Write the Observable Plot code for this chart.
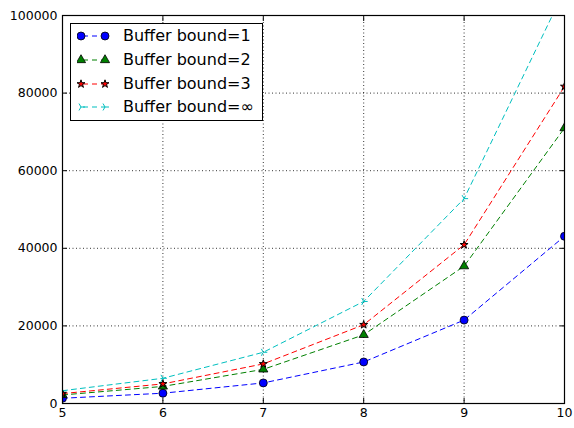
<!DOCTYPE html>
<html><head><meta charset="utf-8">
<script src="https://cdn.jsdelivr.net/npm/d3@7"></script>
<script src="https://cdn.jsdelivr.net/npm/@observablehq/plot@0.6"></script>
<style>
body{margin:0;background:#fff;font-family:"DejaVu Sans",sans-serif}
#wrap{position:relative;width:574px;height:428px}
#legend{position:absolute;left:70px;top:23px;width:191px;height:96px;border:1px solid #000;background:#fff}
.row{position:absolute;left:0;height:24px;width:191px}
.row svg{position:absolute;left:6px;top:0}
.row span{position:absolute;left:52px;top:2px;font-size:16px;color:#000;white-space:nowrap}
</style>
</head><body><div id="wrap"></div><script>
const xs = [5, 6, 7, 8, 9, 10];
const bound1 = [1350, 2650, 5300, 10700, 21500, 43100];
const bound2 = [2200, 4400, 8800, 17700, 35400, 71000];
const bound3 = [2550, 5050, 10200, 20300, 40900, 81700];
const boundInf = [3300, 6500, 13200, 26300, 52800, 106500];
const seriesNames = ["Buffer bound=1", "Buffer bound=2", "Buffer bound=3", "Buffer bound=\u221E"];
const seriesColors = ["#0000ff", "#008000", "#ff0000", "#00bfbf"];
const xTicks = [5, 6, 7, 8, 9, 10];
const yTicks = [0, 20000, 40000, 60000, 80000, 100000];

const triRight = {
  draw(ctx, size) {
    const r = Math.sqrt(size / Math.PI);
    ctx.moveTo(0, 0); ctx.lineTo(r, 0);
    ctx.moveTo(0, 0); ctx.lineTo(-r * 0.5, -r * 0.866);
    ctx.moveTo(0, 0); ctx.lineTo(-r * 0.5, r * 0.866);
  }
};
const markerSpecs = [
  {symbol: "circle", r: 4, fill: seriesColors[0], stroke: "#000", strokeWidth: 0.8},
  {symbol: "triangle", r: 3.4, fill: seriesColors[1], stroke: "#000", strokeWidth: 0.8},
  {symbol: "star", r: 2.5, fill: seriesColors[2], stroke: "#000", strokeWidth: 1},
  {symbol: triRight, r: 4, fill: "none", stroke: seriesColors[3], strokeWidth: 1}
];
const allVals = [bound1, bound2, bound3, boundInf];
const rows = [];
allVals.forEach((vals, s) => vals.forEach((v, i) => rows.push({x: xs[i], y: v, s})));

const marks = [
  Plot.gridX(xTicks, {stroke: "#000", strokeOpacity: 1, strokeWidth: 0.8, strokeDasharray: "1,2.5"}),
  Plot.gridY(yTicks, {stroke: "#000", strokeOpacity: 1, strokeWidth: 0.8, strokeDasharray: "1,2.5"})
];
allVals.forEach((vals, s) => {
  const d = rows.filter(r => r.s === s);
  marks.push(Plot.line(d, {x: "x", y: "y", stroke: seriesColors[s], strokeWidth: 1, strokeDasharray: "5,4", clip: true}));
});
allVals.forEach((vals, s) => {
  const d = rows.filter(r => r.s === s);
  const m = markerSpecs[s];
  marks.push(Plot.dot(d, {x: "x", y: "y", symbol: () => m.symbol, r: m.r, fill: m.fill, stroke: m.stroke, strokeWidth: m.strokeWidth, clip: true}));
});
marks.push(
  Plot.frame({stroke: "#000", strokeWidth: 1.2}),
  Plot.axisX(xTicks, {anchor: "bottom", tickSize: -5, tickPadding: 10, tickFormat: d => String(d), fontSize: 12.5, label: null}),
  Plot.axisX(xTicks, {anchor: "top", tickSize: -5, tickFormat: () => "", label: null}),
  Plot.axisY(yTicks, {anchor: "left", tickSize: -5, tickPadding: 10, tickFormat: d => String(d), fontSize: 12.5, label: null}),
  Plot.axisY(yTicks, {anchor: "right", tickSize: -5, tickFormat: () => "", label: null})
);

const chart = Plot.plot({
  width: 574, height: 428,
  marginLeft: 62, marginRight: 10, marginTop: 15, marginBottom: 25,
  style: {fontFamily: "DejaVu Sans", color: "#000", background: "#fff"},
  x: {domain: [5, 10]},
  y: {domain: [0, 100000]},
  symbol: {type: "identity"},
  marks
});
const wrap = document.getElementById("wrap");
wrap.appendChild(chart);

// legend
const legend = document.createElement("div");
legend.id = "legend";
seriesNames.forEach((name, s) => {
  const row = document.createElement("div");
  row.className = "row";
  row.style.top = (s * 23.8) + "px";
  const m = markerSpecs[s];
  const symType = typeof m.symbol === "string" ? Plot.symbol ? null : null : null;
  const sym = m.symbol === "circle" ? d3.symbolCircle : m.symbol === "triangle" ? d3.symbolTriangle : m.symbol === "star" ? d3.symbolStar : m.symbol;
  const path = d3.symbol(sym, Math.PI * m.r * m.r)();
  const svg = d3.create("svg").attr("width", 34).attr("height", 24);
  svg.append("line").attr("x1", 4).attr("x2", 28).attr("y1", 12).attr("y2", 12)
    .attr("stroke", seriesColors[s]).attr("stroke-dasharray", "5,4").attr("stroke-dashoffset", -2);
  [4, 28].forEach(cx => svg.append("path").attr("d", path).attr("transform", `translate(${cx},12)`)
    .attr("fill", m.fill).attr("stroke", m.stroke).attr("stroke-width", m.strokeWidth));
  row.appendChild(svg.node());
  const span = document.createElement("span");
  span.textContent = name;
  row.appendChild(span);
  legend.appendChild(row);
});
wrap.appendChild(legend);
</script></body></html>
